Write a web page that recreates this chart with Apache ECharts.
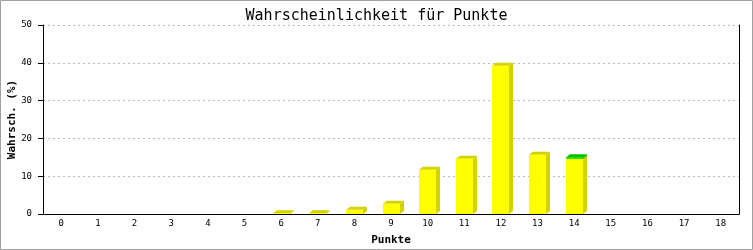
<!DOCTYPE html>
<html><head><meta charset="utf-8">
<script src="https://cdn.jsdelivr.net/npm/echarts@6/dist/echarts.min.js"></script>
<style>html,body{margin:0;padding:0;background:#fff}#c{width:753px;height:250px}</style>
</head><body><div id="c"></div>
<script>
var categories = ['0','1','2','3','4','5','6','7','8','9','10','11','12','13','14','15','16','17','18'];
var yellowValues = [0,0,0,0,0,0,0.2,0.2,1.1,2.7,11.7,14.6,39.2,15.7,14.6,0,0,0,0];
var greenValues  = [0,0,0,0,0,0,0,0,0,0,0,0,0,0,0.4,0,0,0,0];
var yTicks = [0,10,20,30,40,50];

var chart = echarts.init(document.getElementById('c'), null, {renderer:'canvas'});

function makeData(base, vals){
  var out = [];
  for (var i=0;i<vals.length;i++){
    var b = base ? base[i] : 0;
    out.push([i, b, b+vals[i]]);
  }
  return out;
}

function render3D(front, dark){
  return function(params, api){
    var x = api.value(0), b = api.value(1), t = api.value(2);
    if (t <= b) return;
    var p0 = api.coord([x, b]);
    var p1 = api.coord([x, t]);
    var w = 17, dx = 4, dy = 3;
    var l = Math.round(p0[0] - w/2), r = l + w;
    var yb = p0[1], yt = p1[1];
    return {
      type:'group',
      children:[
        {type:'polygon', shape:{points:[[r,yb],[r+dx,yb-dy],[r+dx,yt-dy],[r,yt]]}, style:{fill:dark}},
        {type:'polygon', shape:{points:[[l,yt],[l+dx,yt-dy],[r+dx,yt-dy],[r,yt]]}, style:{fill:dark}},
        {type:'rect', shape:{x:l, y:yt, width:w, height:yb-yt}, style:{fill:front}}
      ]
    };
  };
}

var font = 'DejaVu Sans Mono';
chart.setOption({
  animation:false,
  backgroundColor:'#fff',
  title:{text:'Wahrscheinlichkeit für Punkte', left:'center', top:4,
    textStyle:{fontFamily:font, fontSize:15, fontWeight:'normal', color:'#000'}},
  grid:{left:43, right:14, top:25, bottom:36, containLabel:false, outerBoundsMode:'none'},
  xAxis:{type:'category', data:categories, boundaryGap:true,
    name:'Punkte', nameLocation:'middle', nameGap:21, nameMoveOverlap:false,
    nameTextStyle:{fontFamily:font, fontSize:11, fontWeight:'bold', color:'#000'},
    axisLine:{lineStyle:{color:'#000', width:1}}, axisTick:{show:false},
    axisLabel:{fontFamily:font, fontSize:9, color:'#000', margin:5, interval:0},
    splitLine:{show:false}},
  yAxis:[{type:'value', min:0, max:50, interval:10,
    name:'Wahrsch. (%)', nameLocation:'middle', nameGap:25, nameRotate:90, nameMoveOverlap:false,
    nameTextStyle:{fontFamily:font, fontSize:11, fontWeight:'bold', color:'#000'},
    axisLine:{show:true, lineStyle:{color:'#000'}},
    axisTick:{show:true, length:5, lineStyle:{color:'#000'}},
    axisLabel:{fontFamily:font, fontSize:9, color:'#000', margin:11,
      formatter:function(v){return yTicks.indexOf(v)>=0? String(v):'';}},
    splitLine:{show:true, lineStyle:{color:'#bbbbbb', type:[2,3]}}},
   {type:'value', min:0, max:50, interval:10, position:'right',
    axisLine:{show:true, lineStyle:{color:'#000'}}, axisTick:{show:false},
    axisLabel:{show:false}, splitLine:{show:false}}],
  graphic:[{type:'rect', shape:{x:0.5,y:0.5,width:752,height:249},
    style:{fill:null, stroke:'#a0a0a0', lineWidth:1}, silent:true}],
  series:[
    {type:'custom', renderItem:render3D('#ffff00','#d2d200'), data:makeData(null, yellowValues), encode:{x:0,y:[1,2]}},
    {type:'custom', renderItem:render3D('#00e000','#00c000'), data:makeData(yellowValues, greenValues), encode:{x:0,y:[1,2]}}
  ]
});
</script></body></html>
